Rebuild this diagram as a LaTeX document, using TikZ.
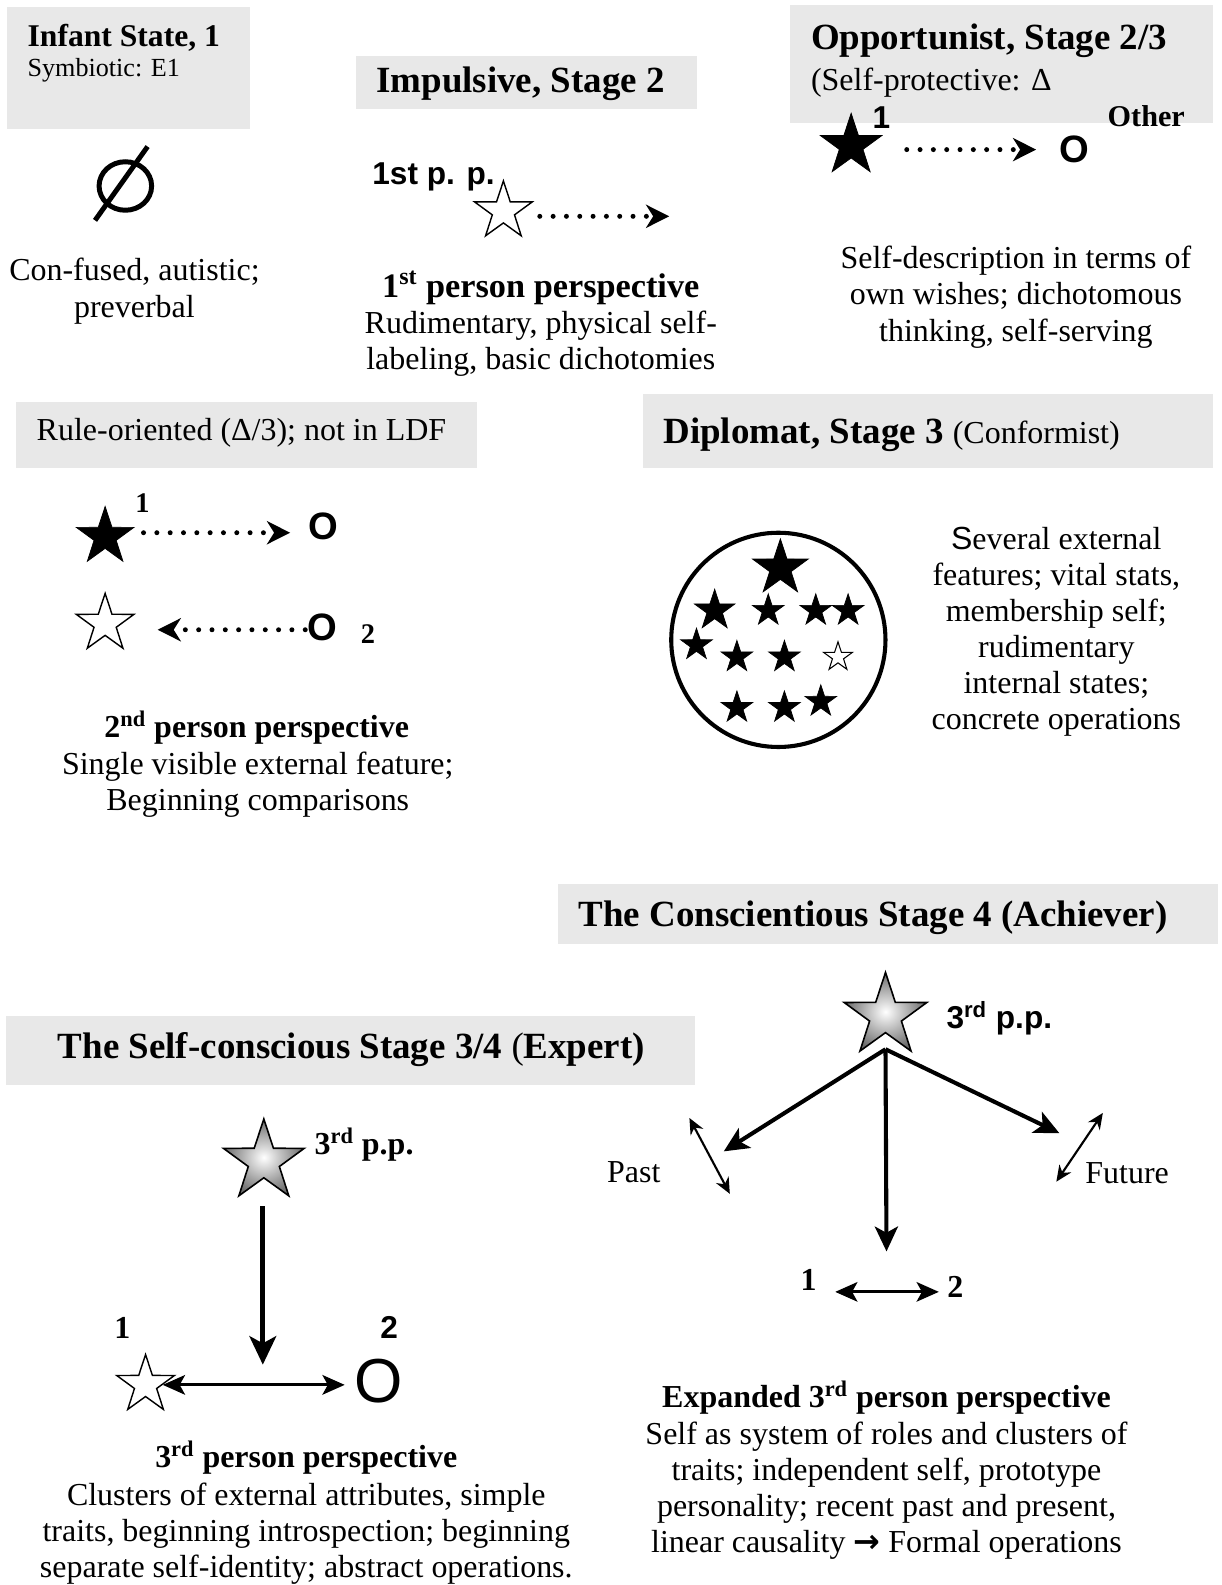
\documentclass[tikz,border=0pt]{standalone}
\usepackage{fontspec}
\setmainfont{Liberation Serif}
\setsansfont{Liberation Sans}
\newfontfamily\arrowfont{DejaVu Sans}
\usetikzlibrary{arrows.meta,shapes.geometric}
\definecolor{panelgray}{HTML}{E8E8E8}
\tikzset{
  panel/.style={fill=panelgray},
  head/.style={font=\fontsize{20.8}{24}\selectfont\bfseries, inner sep=0pt, anchor=west},
  note/.style={font=\fontsize{18}{20.3}\selectfont, align=center, inner sep=0pt},
  subhead/.style={font=\fontsize{18}{20}\selectfont\bfseries, inner sep=0pt},
  tag/.style={font=\fontsize{17.8}{20}\selectfont\sffamily\bfseries, inner sep=0pt},
  other/.style={font=\fontsize{21.5}{22}\selectfont\sffamily\bfseries, inner sep=0pt},
  num/.style={font=\fontsize{16}{18}\selectfont\bfseries, inner sep=0pt},
  fullstar/.style={star, star points=5, star point ratio=2.6, fill=black, draw=black, line width=0.4pt, inner sep=0pt},
  openstar/.style={star, star points=5, star point ratio=2.6, fill=white, draw=black, line width=0.8pt, inner sep=0pt},
  shadestar/.style={star, star points=5, star point ratio=2.6, draw=black, line width=0.9pt, inner sep=0pt, inner color=white, outer color=black!58},
  dotarrow/.style={line width=2.8pt, line cap=round, dash pattern=on 0pt off 7.5pt, -{Stealth[length=13pt,width=13pt,inset=4pt]}},
  bigarrow/.style={line width=2.3pt, -{Stealth[length=14pt,width=13pt,inset=3.5pt]}},
  twoway/.style={line width=1.2pt, {Stealth[length=9pt,width=8pt]}-{Stealth[length=9pt,width=8pt]}},
  pairarrow/.style={line width=1.8pt, {Stealth[length=12.5pt,width=11pt,inset=3pt]}-{Stealth[length=12.5pt,width=11pt,inset=3pt]}}
}
\begin{document}
\begin{tikzpicture}[x=0.02cm, y=-0.02cm]
\useasboundingbox (0,0) rectangle (1208,1568);

% grey stage panels
\fill[panel] (7,7) rectangle (247,128);
\fill[panel] (352,55) rectangle (690,108);
\fill[panel] (782,5) rectangle (1200,122);
\fill[panel] (16,398) rectangle (472,463);
\fill[panel] (636,390) rectangle (1200,463);
\fill[panel] (552,875) rectangle (1205,934);
\fill[panel] (6,1005) rectangle (688,1073);

% infant state
\node[head, font=\fontsize{17.8}{20}\selectfont\bfseries] (t1) at (27,37) {Infant State, 1};
\node[anchor=west, inner sep=0pt, font=\fontsize{14.7}{17}\selectfont] (t1sub) at (27,70) {Symbiotic: E1};
\node[ellipse, draw, line width=2.8pt, minimum width=1.04cm, minimum height=0.96cm, inner sep=0pt] (void) at (124,184) {};
\draw[line width=2.8pt] ([shift={(-30,34)}]void.center) -- ([shift={(22,-39)}]void.center);
\node[note] (d1) at (133,288) {Con-fused, autistic;\\preverbal};

% impulsive
\node[head] (t2) at (372,83) {Impulsive, Stage 2};
\node[tag, anchor=west] (pp2) at (368,175) {1st p. p.};
\node[openstar, minimum size=1.2cm] (s2) at (498,209) {};
\coordinate (e2) at (662,214);
\draw[dotarrow] ([shift={(36,5)}]s2.center) -- (e2);
\node[subhead, font=\fontsize{19.3}{22}\selectfont\bfseries] (h2) at (535,285) {1\textsuperscript{st} person perspective};
\node[note] (d2) at (535,340) {Rudimentary, physical self-\\labeling, basic dichotomies};

% opportunist
\node[head] (t3) at (802,40) {Opportunist, Stage 2/3};
\node[anchor=west, inner sep=0pt, font=\fontsize{18}{20}\selectfont] (t3sub) at (802,82) {(Self-protective: Δ};
\node[fullstar, minimum size=1.28cm] (s3) at (842,144) {};
\node[tag] (n3) at (872,116) {1};
\node[other] (o3) at (1063,148) {O};
\node[num, font=\fontsize{17}{20}\selectfont\bfseries] (oth3) at (1134,115) {Other};
\coordinate (e3) at (1025,148);
\draw[dotarrow] ([shift={(55,4)}]s3.center) -- (e3);
\node[note] (d3) at (1005,294) {Self-description in terms of\\own wishes; dichotomous\\thinking, self-serving};

% rule-oriented
\node[anchor=west, inner sep=0pt, font=\fontsize{18}{20}\selectfont] (t4) at (36,428) {Rule-oriented (Δ/3); not in LDF};
\node[fullstar, minimum size=1.2cm] (s4a) at (104,531) {};
\node[num] (n4a) at (141,498) {1};
\node[other] (o4a) at (320,521) {O};
\coordinate (e4a) at (287,527);
\draw[dotarrow] ([shift={(38,-4)}]s4a.center) -- (e4a);
\node[openstar, minimum size=1.2cm] (s4b) at (104,617) {};
\node[other] (o4b) at (319,621) {O};
\node[num] (n4b) at (364,627) {2};
\coordinate (e4b) at (156,623);
\draw[dotarrow] ([shift={(-2,2)}]o4b.west) -- (e4b);
\node[subhead] (h4) at (254,720) {2\textsuperscript{nd} person perspective};
\node[note] (d4) at (255,776) {Single visible external feature;\\Beginning comparisons};

% diplomat
\node[head] (t5) at (656,430) {Diplomat, Stage 3 {\mdseries\fontsize{18}{20}\selectfont (Conformist)}};
\node[circle, draw, line width=2.3pt, minimum size=4.24cm, inner sep=0pt] (crowd) at (770,633) {};
\node[fullstar, minimum size=1.16cm] (top5) at (772,562) {};
\foreach \x/\y/\d [count=\i] in {707/604/0.84, 760/604/0.66, 807/604/0.66, 839/604/0.66,
    689/638/0.66, 729/650/0.66, 776/650/0.66, 729/700/0.66, 776/700/0.66, 812/694/0.66}
  \node[fullstar, minimum size=\d cm] (c\i) at (\x,\y) {};
\node[openstar, minimum size=0.6cm, line width=0.6pt] (me5) at (829,650) {};
\node[note] (d5) at (1045,625) {{\sffamily S}everal external\\features; vital stats,\\membership self;\\rudimentary\\internal states;\\concrete operations};

% conscientious
\node[head] (t6) at (572,908) {The Conscientious Stage 4 (Achiever)};
\node[shadestar, minimum size=1.72cm] (s6) at (876,1005) {};
\node[tag, anchor=west] (pp6) at (936,1007) {3\textsuperscript{rd} p.p.};
\coordinate (r6) at (876,1038);
\coordinate (p6) at (716,1139);
\coordinate (f6) at (1048,1121);
\coordinate (m6) at (877,1238);
\draw[bigarrow] (r6) -- (p6);
\draw[bigarrow] (r6) -- (m6);
\draw[bigarrow] (r6) -- (f6);
\node[note] (past) at (627,1160) {Past};
\node[note] (future) at (1115,1161) {Future};
\coordinate (pa) at (682,1106); \coordinate (pb) at (722,1181);
\coordinate (fa) at (1091,1101); \coordinate (fb) at (1045,1169);
\draw[twoway] (pa) -- (pb);
\draw[twoway] (fa) -- (fb);
\node[num, font=\fontsize{18}{20}\selectfont\bfseries] (n6a) at (800,1266) {1};
\node[num, font=\fontsize{18}{20}\selectfont\bfseries] (n6b) at (945,1273) {2};
\draw[pairarrow, line width=1.6pt] ([shift={(18,12)}]n6a.east) -- ([shift={(-8,5)}]n6b.west);
\node[subhead] (h6) at (877,1383) {Expanded 3\textsuperscript{rd} person perspective};
\node[note] (d6) at (877,1475) {Self as system of roles and clusters of\\traits; independent self, prototype\\personality; recent past and present,\\linear causality {\arrowfont\bfseries →} Formal operations};

% self-conscious
\node[head] (t7) at (57,1038) {The Self-conscious Stage 3/4 {\mdseries(}Expert)};
\node[shadestar, minimum size=1.68cm] (s7) at (261,1149) {};
\node[num, anchor=west, font=\fontsize{18}{20}\selectfont\bfseries] (pp7) at (311,1132) {3\textsuperscript{rd} p.p.};
\coordinate (m7) at (260,1350);
\draw[bigarrow, line width=2.8pt, -{Stealth[length=16pt,width=15pt,inset=4pt]}] ([shift={(-1,27)}]s7.south) -- (m7);
\node[num, font=\fontsize{18}{20}\selectfont\bfseries] (n7a) at (121,1314) {1};
\node[tag] (n7b) at (385,1313) {2};
\node[openstar, minimum size=1.2cm] (s7a) at (144,1370) {};
\node[inner sep=0pt, font=\fontsize{35}{36}\selectfont\sffamily] (o7) at (375,1366) {O};
\coordinate (e7) at (341,1370);
\draw[pairarrow] (s7a.east) -- (e7);
\node[subhead] (h7) at (303,1442) {3\textsuperscript{rd} person perspective};
\node[note] (d7) at (303,1517) {Clusters of external attributes, simple\\traits, beginning introspection; beginning\\separate self-identity; abstract operations.};
\end{tikzpicture}
\end{document}
